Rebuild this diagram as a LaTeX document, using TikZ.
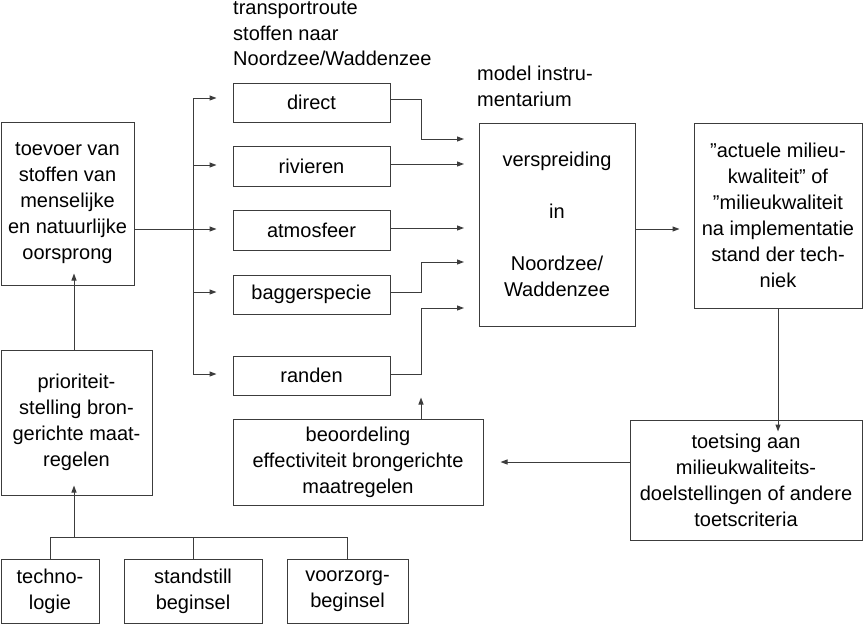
\documentclass[tikz,border=0pt]{standalone}
\usepackage{fontspec}
\setmainfont{Liberation Sans}
\usetikzlibrary{arrows.meta}
\definecolor{lc}{RGB}{60,60,60}
\begin{document}
\begin{tikzpicture}[x=1pt,y=-1pt,
  box/.style={draw=lc, line width=1pt, rectangle, inner sep=0pt, align=center,
    font=\fontsize{20}{26}\selectfont},
  conn/.style={draw=lc, line width=1pt},
  arr/.style={conn, -{Triangle[length=7pt,width=5pt,sep=3pt]}},
  lbl/.style={inner sep=0pt, align=left, anchor=north west, font=\fontsize{20}{25.5}\selectfont}
]
\useasboundingbox (0,0) rectangle (864,624);

% boxes
\node[box, minimum width=133pt, minimum height=163pt] (toevoer) at (67.5,203.5)
  {toevoer van\\stoffen van\\menselijke\\en natuurlijke\\oorsprong};
\node[box, minimum width=151pt, minimum height=145pt] (prio) at (76.5,422.5)
  {prioriteit-\\stelling bron-\\gerichte maat-\\regelen};
\node[box, minimum width=98pt, minimum height=64pt] (techno) at (50,591)
  {techno-\\logie};
\node[box, minimum width=138pt, minimum height=64pt] (stand) at (193,591)
  {standstill\\beginsel};
\node[box, minimum width=121pt, minimum height=64pt] (voorzorg) at (347.5,591)
  {voorzorg-\\beginsel};

\node[box, minimum width=157pt, minimum height=39pt] (direct) at (311.5,102.5) {direct};
\node[box, minimum width=157pt, minimum height=40pt] (rivieren) at (311.5,166) {rivieren};
\node[box, minimum width=157pt, minimum height=40pt] (atmosfeer) at (311.5,230) {atmosfeer};
\node[box, minimum width=157pt, minimum height=39pt] (bagger) at (311.5,294.5) {baggerspecie};
\node[box, minimum width=157pt, minimum height=39pt] (randen) at (311.5,375.5) {randen};

\node[box, minimum width=156pt, minimum height=203pt] (model) at (557,224.5)
  {verspreiding\\ \\in\\ \\Noordzee/\\Waddenzee};
\node[box, minimum width=168pt, minimum height=185pt] (actuele) at (778,215.5)
  {\textquotedblright actuele milieu-\\kwaliteit\textquotedblright\ of\\\textquotedblright milieukwaliteit\\na implementatie\\stand der tech-\\niek};
\node[box, minimum width=232pt, minimum height=120pt] (toetsing) at (746,480)
  {toetsing aan\\milieukwaliteits-\\doelstellingen of andere\\toetscriteria};
\node[box, minimum width=250pt, minimum height=86pt] (beoord) at (358,462)
  {beoordeling\\effectiviteit brongerichte\\maatregelen};

% labels
\node[lbl] (tlabel) at (233,1.5) {transportroute\\stoffen naar\\Noordzee/Waddenzee};
\node[lbl] (mlabel) at (477,66) {model instru-\\mentarium};

% bus from toevoer to transport routes
\coordinate (btop) at (193,98);
\coordinate (bbot) at (193,374);
\draw[conn] (btop) -- (bbot);
\draw[conn] (toevoer.east |- 0,229) -- (btop |- 0,229);
\draw[arr] (btop) -- ([xshift=-13pt]direct.west |- btop);
\draw[arr] (btop |- 0,165) -- ([xshift=-13pt]rivieren.west |- 0,165);
\draw[arr] (btop |- 0,229) -- ([xshift=-13pt]atmosfeer.west |- 0,229);
\draw[arr] (btop |- 0,292) -- ([xshift=-13pt]bagger.west |- 0,292);
\draw[arr] (bbot) -- ([xshift=-13pt]randen.west |- bbot);

% transport routes to model
\coordinate (mx) at (421,0);
\coordinate (mend) at (467,0);
\draw[arr] (direct.east |- 0,99) -| (mx |- 0,139) -- (mend |- 0,139);
\draw[arr] (rivieren.east |- 0,164) -- (mend |- 0,164);
\draw[arr] (atmosfeer.east |- 0,228) -- (mend |- 0,228);
\draw[arr] (bagger.east |- 0,292) -| (mx |- 0,262) -- (mend |- 0,262);
\draw[arr] (randen.east |- 0,374) -| (mx |- 0,308) -- (mend |- 0,308);

% model -> actuele -> toetsing -> beoordeling -> up
\draw[arr] (model.east |- 0,229) -- ([xshift=-11pt]actuele.west |- 0,229);
\draw[arr] (actuele.south) -- ([yshift=-15pt]toetsing.north -| actuele.south);
\draw[arr] (toetsing.west |- 0,462) -- ([xshift=14pt]beoord.east |- 0,462);
\draw[arr] (beoord.north -| mx) -- ++(0,-24);

% prio -> toevoer
\draw[arr] (prio.north -| 74,0) -- ([yshift=15pt]toevoer.south -| 74,0);

% bottom bus
\coordinate (lb) at (0,537);
\draw[conn] (techno.north) |- (voorzorg.north |- lb) -- (voorzorg.north);
\draw[conn] (stand.north) -- (stand.north |- lb);
\draw[arr] (74,537) -- ([yshift=13pt]prio.south -| 74,0);
\end{tikzpicture}
\end{document}
